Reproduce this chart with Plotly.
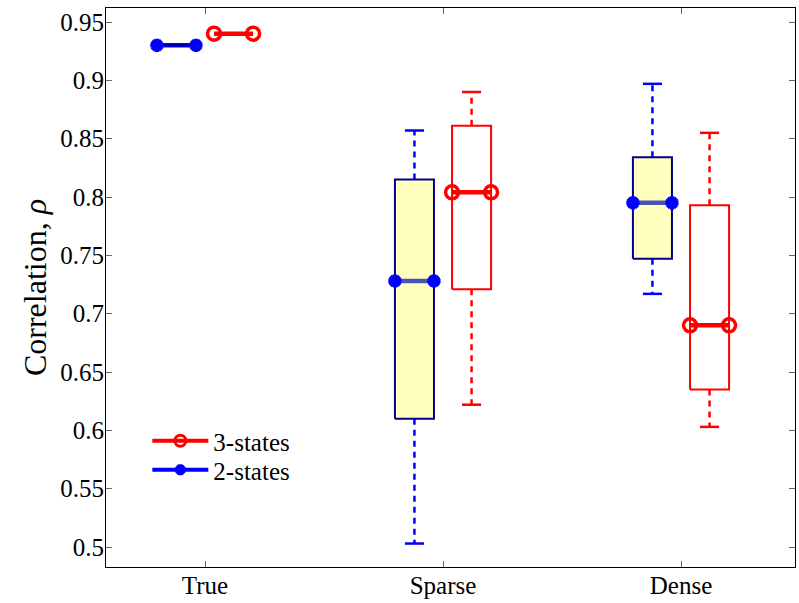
import plotly.graph_objects as go

categories = ["True", "Sparse", "Dense"]
cat_pos = [1, 2, 3]

# 2-states (blue) box statistics
two_lower = [0.930, 0.503, 0.717]
two_q1 = [0.930, 0.610, 0.747]
two_med = [0.930, 0.728, 0.795]
two_q3 = [0.930, 0.815, 0.834]
two_upper = [0.930, 0.857, 0.897]

# 3-states (red) box statistics
three_lower = [0.940, 0.622, 0.603]
three_q1 = [0.940, 0.721, 0.635]
three_med = [0.940, 0.804, 0.690]
three_q3 = [0.940, 0.861, 0.793]
three_upper = [0.940, 0.890, 0.855]

y_ticks = [0.5, 0.55, 0.6, 0.65, 0.7, 0.75, 0.8, 0.85, 0.9, 0.95]

OFFSET = 0.12
HALF_W = 0.082
CAP_W = 0.04
FONT = "Liberation Serif"

fig = go.Figure()


def add_series(name, offset, lower, q1, med, q3, upper, edge, fill, wcolor,
               med_colors, msym, msize, mline, legend_color):
    wx, wy, cx, cy, bx, by = [], [], [], [], [], []
    for p, lo, a, m, b, hi in zip(cat_pos, lower, q1, med, q3, upper):
        c = p + offset
        if hi > b:
            wx += [c, c, None]
            wy += [b, hi, None]
            cx += [c - CAP_W, c + CAP_W, None]
            cy += [hi, hi, None]
        if lo < a:
            wx += [c, c, None]
            wy += [a, lo, None]
            cx += [c - CAP_W, c + CAP_W, None]
            cy += [lo, lo, None]
        bx += [c - HALF_W, c + HALF_W, c + HALF_W, c - HALF_W, c - HALF_W, None]
        by += [a, a, b, b, a, None]
    fig.add_trace(go.Scatter(x=wx, y=wy, mode="lines", showlegend=False,
                             line=dict(color=wcolor, width=2.5, dash="6px,5px"),
                             hoverinfo="skip"))
    fig.add_trace(go.Scatter(x=cx, y=cy, mode="lines", showlegend=False,
                             line=dict(color=wcolor, width=2.5), hoverinfo="skip"))
    fig.add_trace(go.Scatter(x=bx, y=by, mode="lines", fill="toself",
                             fillcolor=fill, showlegend=False,
                             line=dict(color="rgba(0,0,0,0)", width=0),
                             hoverinfo="skip"))
    for i, (p, m) in enumerate(zip(cat_pos, med)):
        c = p + offset
        fig.add_trace(go.Scatter(x=[c - HALF_W, c + HALF_W], y=[m, m],
                                 mode="lines", showlegend=False,
                                 line=dict(color=med_colors[i], width=4.5),
                                 hoverinfo="skip"))
    fig.add_trace(go.Scatter(x=bx, y=by, mode="lines", showlegend=False,
                             line=dict(color=edge, width=2), hoverinfo="skip"))
    mx, my = [], []
    for p, m in zip(cat_pos, med):
        c = p + offset
        mx += [c - HALF_W, c + HALF_W]
        my += [m, m]
    fig.add_trace(go.Scatter(x=mx, y=my, mode="markers", showlegend=False,
                             marker=dict(symbol=msym, size=msize, color=legend_color,
                                         line=dict(color=legend_color, width=mline)),
                             hoverinfo="skip"))


add_series("2-states", -OFFSET, two_lower, two_q1, two_med, two_q3, two_upper,
           edge="#00008B", fill="#FFFFBF", wcolor="#0000FF",
           med_colors=["#0000FF", "#4B52B2", "#4B52B2"],
           msym="asterisk-open", msize=11, mline=4.5, legend_color="#0000FF")
add_series("3-states", OFFSET, three_lower, three_q1, three_med, three_q3, three_upper,
           edge="#FF0000", fill="rgba(255,255,255,0)", wcolor="#FF0000",
           med_colors=["#FF0000", "#FF0000", "#FF0000"],
           msym="circle-open", msize=13, mline=3.5, legend_color="#FF0000")

# legend entries (two separate legends to control row spacing)
fig.add_trace(go.Scatter(x=[None], y=[None], mode="lines+markers", name="3-states",
                         legend="legend",
                         line=dict(color="#FF0000", width=4),
                         marker=dict(symbol="circle-open", size=11, color="#FF0000",
                                     line=dict(color="#FF0000", width=3))))
fig.add_trace(go.Scatter(x=[None], y=[None], mode="lines+markers", name="2-states",
                         legend="legend2",
                         line=dict(color="#0000FF", width=4),
                         marker=dict(symbol="asterisk-open", size=9, color="#0000FF",
                                     line=dict(color="#0000FF", width=4))))

leg_common = dict(xanchor="left", yanchor="middle",
                  bgcolor="rgba(255,255,255,0)", borderwidth=0,
                  font=dict(family=FONT, size=25), itemwidth=56)
# plot area: top 8px, bottom 567px (height 559)
fig.update_layout(
    width=799, height=603,
    margin=dict(l=106, r=4, t=8, b=36),
    paper_bgcolor="white", plot_bgcolor="white",
    font=dict(family=FONT, size=25, color="black"),
    showlegend=True,
    legend=dict(x=0.06, y=(567 - 441) / 559, **leg_common),
    legend2=dict(x=0.06, y=(567 - 470) / 559, **leg_common),
)
fig.update_xaxes(range=[0.584, 3.479], tickvals=cat_pos, ticktext=categories,
                 showgrid=False, zeroline=False, showline=True, linecolor="black",
                 linewidth=1, mirror="ticks", ticks="inside", ticklen=6,
                 tickcolor="#666", tickfont=dict(family=FONT, size=25),
                 ticklabelstandoff=-4, automargin=False)
fig.update_yaxes(range=[0.4829, 0.962], tickvals=y_ticks,
                 ticktext=[("%g" % v) for v in y_ticks],
                 showgrid=False, zeroline=False, showline=True, linecolor="black",
                 linewidth=1, mirror="ticks", ticks="inside", ticklen=6,
                 tickcolor="#666", tickfont=dict(family=FONT, size=25),
                 ticklabelstandoff=-4, automargin=False,
                 title=dict(text="Correlation, <i>ρ</i>", standoff=4,
                            font=dict(family=FONT, size=32)))

fig.write_html("out.html")
